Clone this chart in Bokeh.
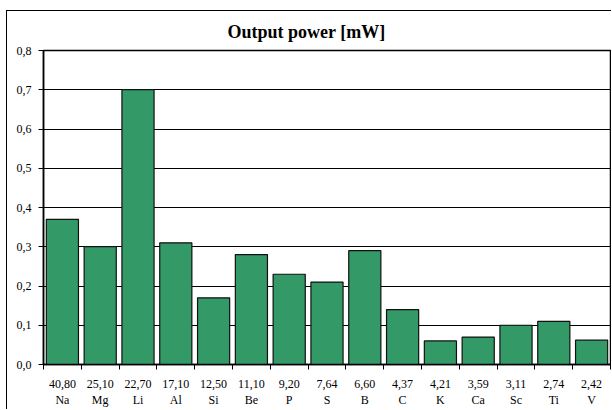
from bokeh.plotting import figure
from bokeh.models import FixedTicker, CustomJSTickFormatter, Range1d, ColumnDataSource
from bokeh.embed import file_html
from bokeh.resources import INLINE

elements = ["Na", "Mg", "Li", "Al", "Si", "Be", "P", "S", "B", "C", "K", "Ca", "Sc", "Ti", "V"]
atomic_labels = ["40,80", "25,10", "22,70", "17,10", "12,50", "11,10", "9,20", "7,64", "6,60",
                 "4,37", "4,21", "3,59", "3,11", "2,74", "2,42"]
power_mw = [0.37, 0.30, 0.70, 0.31, 0.17, 0.28, 0.23, 0.21, 0.29, 0.14, 0.06, 0.07, 0.10, 0.11, 0.062]
y_ticks = [0.0, 0.1, 0.2, 0.3, 0.4, 0.5, 0.6, 0.7, 0.8]

n = len(elements)
centers = [i + 0.5 for i in range(n)]
bounds = [float(i) for i in range(n + 1)]

p = figure(width=605, height=399, output_backend="svg", toolbar_location=None,
           x_range=Range1d(0, n), y_range=Range1d(0, 0.8),
           min_border_left=36, min_border_right=2, min_border_top=38, min_border_bottom=44,
           background_fill_color="white", border_fill_color="white")

p.title.text = "Output power [mW]"
p.title.text_font = "Liberation Serif"
p.title.text_font_size = "18px"
p.title.text_font_style = "bold"
p.title.text_color = "black"
p.title.align = "left"
p.title.offset = 184
p.title.standoff = 17

src = ColumnDataSource(dict(x=centers, top=power_mw))
p.vbar(x="x", top="top", width=0.85, source=src, fill_color="#339966",
       line_color="#111111", line_width=1.2)

p.outline_line_color = "black"
p.outline_line_width = 1.5

p.xgrid.visible = False
p.ygrid.ticker = FixedTicker(ticks=y_ticks)
p.ygrid.grid_line_color = "#000000"
p.ygrid.grid_line_width = 1

p.yaxis.ticker = FixedTicker(ticks=y_ticks)
p.yaxis.formatter = CustomJSTickFormatter(code="return tick.toFixed(1).replace('.', ',');")
p.yaxis.major_tick_out = 5
p.yaxis.major_tick_in = 0
p.yaxis.minor_tick_out = 0
p.yaxis.minor_tick_in = 0
p.yaxis.axis_line_color = "black"
p.yaxis.axis_line_width = 1.5
p.yaxis.major_tick_line_color = "black"
p.yaxis.major_label_text_font = "Liberation Serif"
p.yaxis.major_label_text_font_size = "12px"
p.yaxis.major_label_text_color = "black"
p.yaxis.major_label_standoff = 7

p.xaxis.ticker = FixedTicker(ticks=centers, minor_ticks=bounds)
p.xaxis.major_label_overrides = {c: f"{a}\n{e}" for c, a, e in zip(centers, atomic_labels, elements)}
p.xaxis.major_tick_out = 0
p.xaxis.major_tick_in = 0
p.xaxis.minor_tick_out = 5
p.xaxis.minor_tick_in = 0
p.xaxis.minor_tick_line_color = "black"
p.xaxis.axis_line_color = "black"
p.xaxis.axis_line_width = 1.5
p.xaxis.major_label_text_font = "Liberation Serif"
p.xaxis.major_label_text_font_size = "12px"
p.xaxis.major_label_text_color = "black"
p.xaxis.major_label_text_line_height = 1.2
p.xaxis.major_label_standoff = 7

p.styles = {"border-left": "1px solid black", "border-top": "1px solid black",
            "margin-top": "10px", "margin-left": "6px"}

open("out.html", "w").write(file_html(p, INLINE))
